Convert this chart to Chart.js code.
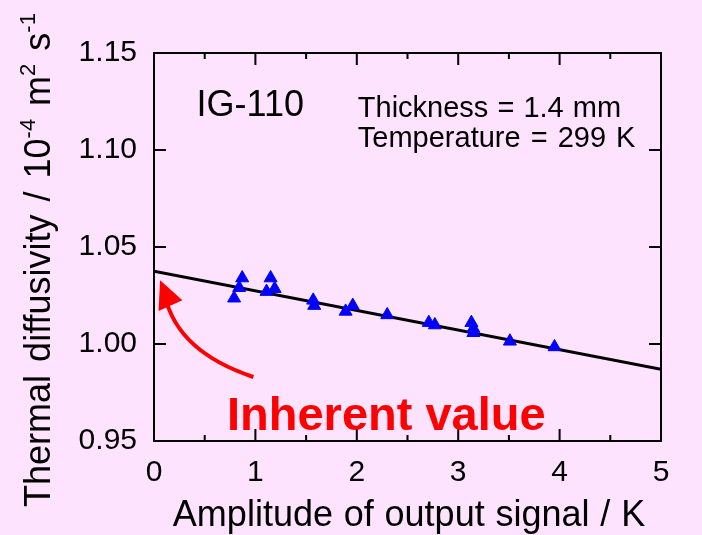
<!DOCTYPE html>
<html>
<head>
<meta charset="utf-8">
<script src="https://cdn.jsdelivr.net/npm/chart.js@4.4.0/dist/chart.umd.min.js"></script>
<style>
  html, body { margin: 0; padding: 0; background: #fde3fd; }
  #wrap { width: 702px; height: 535px; }
</style>
</head>
<body>
<div id="wrap"><canvas id="chart"></canvas></div>
<script>
// measured points (amplitude K, diffusivity 10^-4 m2/s)
const ampX  = [0.79, 0.84, 0.87, 1.11, 1.15, 1.19, 1.57, 1.58, 1.89, 1.96, 2.30, 2.71, 2.77, 3.13, 3.15, 3.15, 3.51, 3.95];
const diffY = [1.0236, 1.029, 1.034, 1.027, 1.034, 1.0285, 1.0225, 1.0198, 1.0168, 1.0198, 1.015, 1.011, 1.0098, 1.011, 1.008, 1.0058, 1.0014, 0.9985];

// fitted line
const fitX = [0, 5];
const fitY = [1.0375, 0.987];

const xTicks = [0, 1, 2, 3, 4, 5];
const xMinor = [0.5, 1.5, 2.5, 3.5, 4.5];
const yTicks = [0.95, 1.00, 1.05, 1.10, 1.15];

const FONT = '"Liberation Sans", Arial, sans-serif';
const ctx = document.getElementById('chart').getContext('2d');

// draw text with wider gaps between words, returns end x
function spaced(c, text, x, y, extra) {
  const sp = c.measureText(' ').width + extra;
  text.split(' ').forEach((w, i) => {
    if (i > 0) x += sp;
    c.fillText(w, x, y);
    x += c.measureText(w).width;
  });
  return x;
}
function spacedWidth(c, text, extra) {
  const sp = c.measureText(' ').width + extra;
  const words = text.split(' ');
  return words.reduce((s, w) => s + c.measureText(w).width, 0) + (words.length - 1) * sp;
}

// frame, inward ticks, titles and notes
const decor = {
  id: 'decor',
  afterDraw(chart) {
    const c = chart.ctx;
    const a = chart.chartArea;
    const xs = chart.scales.x, ys = chart.scales.y;
    c.save();
    c.strokeStyle = '#000';
    c.lineWidth = 2;
    c.strokeRect(a.left, a.top, a.right - a.left, a.bottom - a.top);
    c.beginPath();
    xTicks.forEach(v => {
      const px = xs.getPixelForValue(v);
      c.moveTo(px, a.bottom); c.lineTo(px, a.bottom - 12);
      c.moveTo(px, a.top); c.lineTo(px, a.top + 12);
    });
    xMinor.forEach(v => {
      const px = xs.getPixelForValue(v);
      c.moveTo(px, a.bottom); c.lineTo(px, a.bottom - 6);
      c.moveTo(px, a.top); c.lineTo(px, a.top + 6);
    });
    yTicks.forEach(v => {
      const py = ys.getPixelForValue(v);
      c.moveTo(a.left, py); c.lineTo(a.left + 12, py);
      c.moveTo(a.right, py); c.lineTo(a.right - 12, py);
    });
    c.stroke();

    // red arrow
    const P = (x, y) => [xs.getPixelForValue(x), ys.getPixelForValue(y)];
    const s = P(0.98, 0.983), k = P(0.237, 0.9959), e = P(0.11, 1.0244);
    c.strokeStyle = '#ff0000';
    c.fillStyle = '#ff0000';
    c.lineWidth = 4;
    c.beginPath();
    c.moveTo(s[0], s[1]);
    c.quadraticCurveTo(k[0], k[1], e[0], e[1]);
    c.stroke();
    const t = P(0.06, 1.0328), w1 = P(0.28, 1.0225), w2 = P(0.045, 1.0170);
    c.beginPath();
    c.moveTo(t[0], t[1]); c.lineTo(w1[0], w1[1]); c.lineTo(w2[0], w2[1]);
    c.closePath();
    c.fill();

    c.textBaseline = 'alphabetic';
    c.textAlign = 'left';
    c.font = 'bold 47px ' + FONT;
    let p = P(0.72, 0.9557);
    c.fillText('Inherent value', p[0], p[1]);

    c.fillStyle = '#000';
    c.font = '36px ' + FONT;
    p = P(0.42, 1.1175);
    c.fillText('IG-110', p[0], p[1]);
    c.font = '29px ' + FONT;
    p = P(2.01, 1.1172);
    spaced(c, 'Thickness = 1.4 mm', p[0], p[1], 1);
    p = P(2.01, 1.1016);
    spaced(c, 'Temperature = 299 K', p[0], p[1], 2);

    // x title
    c.font = '36px ' + FONT;
    const xt = 'Amplitude of output signal / K';
    const xw = spacedWidth(c, xt, 0.8);
    spaced(c, xt, 409 - xw / 2, 526, 0.8);

    // y title with superscripts
    const parts = [
      ['Thermal diffusivity / 10', false], ['-4', true], [' m', false],
      ['2', true], [' s', false], ['-1', true]
    ];
    const big = '36px ' + FONT, small = '22px ' + FONT;
    const gap = 3;
    let total = 0;
    parts.forEach(q => { c.font = q[1] ? small : big; total += spacedWidth(c, q[0], gap); });
    c.translate(50, 260);
    c.rotate(-Math.PI / 2);
    let xx = -total / 2;
    parts.forEach(q => {
      c.font = q[1] ? small : big;
      const w = spacedWidth(c, q[0], gap);
      spaced(c, q[0], xx, q[1] ? -15 : 0, gap);
      xx += w;
    });
    c.restore();
  }
};

new Chart(ctx, {
  type: 'scatter',
  data: {
    datasets: [
      {
        label: 'fit',
        type: 'line',
        data: fitX.map((x, i) => ({ x: x, y: fitY[i] })),
        borderColor: '#000',
        borderWidth: 3,
        pointRadius: 0,
        order: 2
      },
      {
        label: 'measured',
        data: ampX.map((x, i) => ({ x: x, y: diffY[i] })),
        pointStyle: 'triangle',
        pointRadius: 7.5,
        backgroundColor: '#0000ff',
        borderColor: '#0000ff',
        borderWidth: 1,
        order: 1
      }
    ]
  },
  options: {
    responsive: true,
    maintainAspectRatio: false,
    animation: false,
    layout: { padding: { left: 0, top: 53, right: 41, bottom: 0 } },
    plugins: { legend: { display: false }, tooltip: { enabled: false } },
    scales: {
      x: {
        type: 'linear',
        min: 0, max: 5,
        afterBuildTicks: s => { s.ticks = xTicks.map(v => ({ value: v })); },
        afterFit: s => { s.height = 94; },
        grid: { display: false, drawTicks: false },
        border: { display: false },
        ticks: { color: '#000', padding: 14, font: { family: FONT, size: 30 } }
      },
      y: {
        type: 'linear',
        min: 0.95, max: 1.15,
        afterBuildTicks: s => { s.ticks = yTicks.map(v => ({ value: v })); },
        afterFit: s => { s.width = 154; },
        grid: { display: false, drawTicks: false },
        border: { display: false },
        ticks: {
          color: '#000', padding: 17, font: { family: FONT, size: 30 },
          callback: v => Number(v).toFixed(2)
        }
      }
    }
  },
  plugins: [decor]
});
</script>
</body>
</html>
